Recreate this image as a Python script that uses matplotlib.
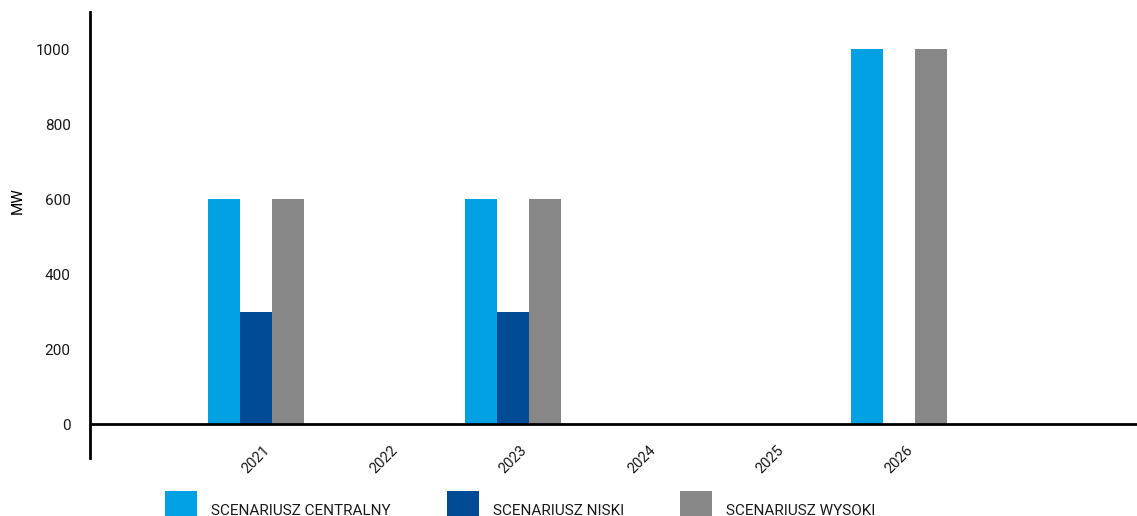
import matplotlib
matplotlib.use("Agg")
import numpy as np
from matplotlib import pyplot as plt

# dane: moc [MW] wg scenariusza
lata = ["2021", "2022", "2023", "2024", "2025", "2026"]
centralny = [600, 0, 600, 0, 0, 1000]
niski = [300, 0, 300, 0, 0, 0]
wysoki = [600, 0, 600, 0, 0, 1000]
etykiety = ["SCENARIUSZ CENTRALNY", "SCENARIUSZ NISKI", "SCENARIUSZ WYSOKI"]
kolory = ["#00A0E3", "#004B93", "#878787"]
yticks = [0, 200, 400, 600, 800, 1000]

plt.rcParams['font.family'] = ['Roboto', 'DejaVu Sans']

fig = plt.figure(figsize=(11.37, 5.16), dpi=100)
ax = fig.add_axes([90/1137, 58/516, 1047/1137, 446/516])

x = np.arange(len(lata))
w = 0.25
for i, (vals, lab, c) in enumerate(zip([centralny, niski, wysoki], etykiety, kolory)):
    ax.bar(x + (i - 1)*w, vals, width=w, color=c, label=lab, zorder=2)

ax.axhline(0, color="black", lw=2, zorder=3)
ax.set_xlim(-1.29, 6.85)
ax.set_ylim(-90, 1100)

for s in ["top", "right", "bottom"]:
    ax.spines[s].set_visible(False)
ax.spines["left"].set_linewidth(2)

ax.set_yticks(yticks)
ax.set_yticklabels([str(v) for v in yticks])
ax.tick_params(axis="y", length=0, pad=14, labelsize=11, colors="#1a1a1a")
ax.set_xticks(x)
ax.set_xticklabels(lata, rotation=45, ha="center")
ax.tick_params(axis="x", length=0, pad=-11, labelsize=10.5, colors="#1a1a1a")

ax.set_ylabel("MW", fontsize=11)
ax.yaxis.set_label_coords(-0.062, 0.578)

fig.legend(loc="lower left", bbox_to_anchor=(151/1137, -29/516), ncol=3, frameon=False,
           fontsize=11, handlelength=2.1, handleheight=3.7, handletextpad=0.9,
           columnspacing=3.7, labelcolor="#1a1a1a")

fig.savefig("out.png", dpi=100)
